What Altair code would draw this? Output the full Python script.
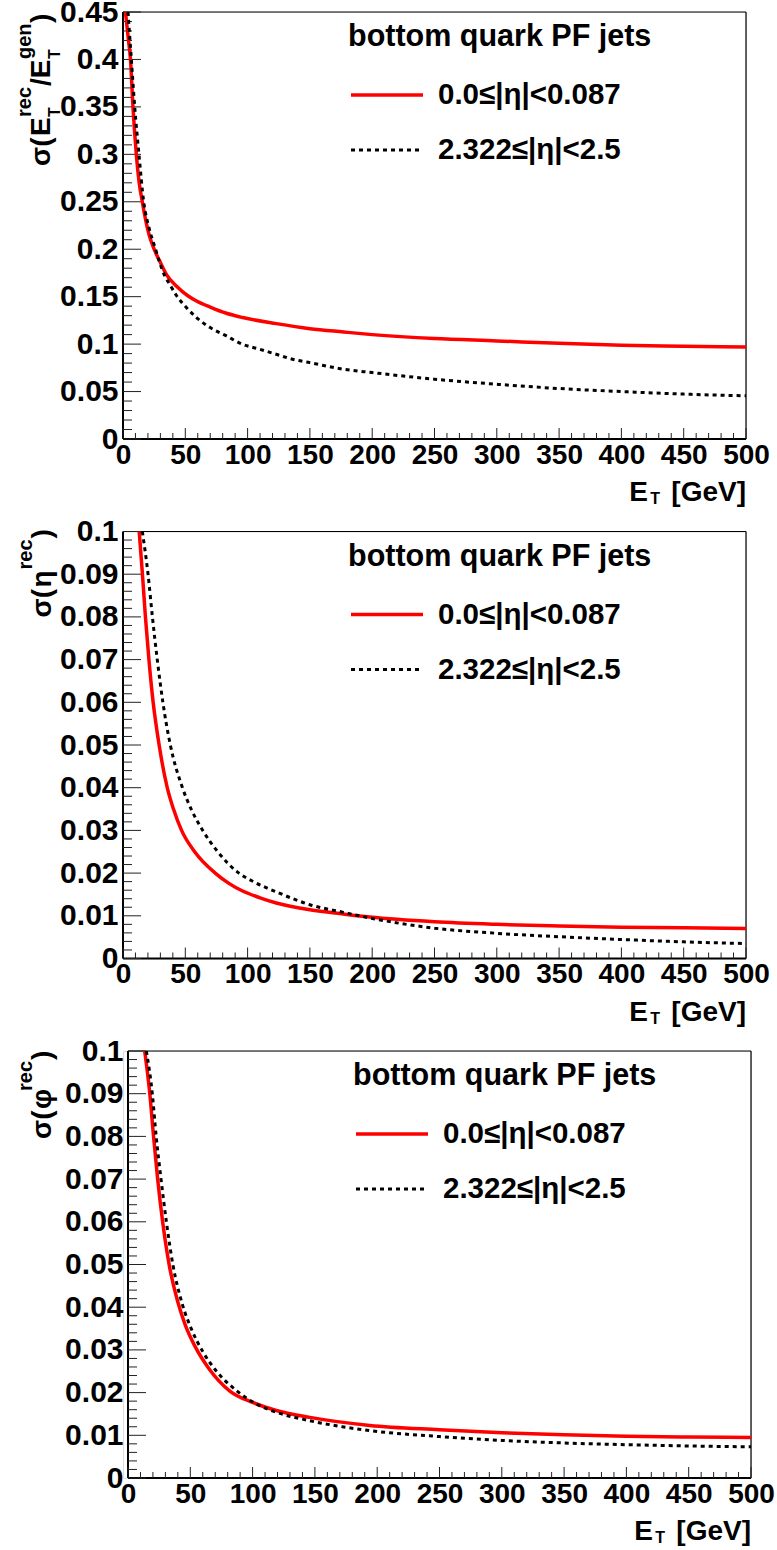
import altair as alt
import pandas as pd

# ---------------- data ----------------
X_TICKS = [0, 50, 100, 150, 200, 250, 300, 350, 400, 450, 500]
X_MINOR = [v for v in range(0, 501, 10) if v % 50 != 0]

# panel 1: sigma(ET_rec/ET_gen)
et_red_1 = [2, 4, 6, 8, 10.7, 13, 15.5, 18, 21, 25, 30, 35, 43, 52, 59, 70, 83, 96,
            123, 150, 177, 200, 250, 300, 350, 400, 450, 500]
sig_red_1 = [0.45, 0.425, 0.40, 0.35, 0.30, 0.27, 0.25, 0.232, 0.215, 0.2, 0.186, 0.173,
             0.161, 0.151, 0.1455, 0.139, 0.1325, 0.128, 0.1216, 0.1163, 0.1128, 0.110,
             0.1058, 0.1034, 0.1008, 0.0988, 0.0978, 0.097]
et_blk_1 = [4, 6.7, 9.4, 12.8, 16.6, 21, 26, 29.4, 33.5, 37.5, 43, 51, 59, 70, 83, 96,
            110, 123, 136, 150, 177, 200, 250, 300, 350, 400, 450, 500]
sig_blk_1 = [0.45, 0.40, 0.35, 0.30, 0.25, 0.222, 0.2005, 0.186, 0.172, 0.163, 0.151,
             0.1384, 0.128, 0.1174, 0.1086, 0.0998, 0.0945, 0.0893, 0.084, 0.0805, 0.0735,
             0.0700, 0.063, 0.0577, 0.0532, 0.050, 0.0473, 0.0455]
Y1_TICKS = [0, 0.05, 0.1, 0.15, 0.2, 0.25, 0.3, 0.35, 0.4, 0.45]
Y1_MINOR = [round(i * 0.01, 2) for i in range(46) if i % 5 != 0]

# panel 2: sigma(eta_rec)
et_red_2 = [13, 15.6, 18, 20.8, 24.2, 29, 35.5, 40.5, 47, 57.5, 74, 85, 96, 110, 123,
            150, 177, 198, 250, 300, 350, 400, 450, 500]
sig_red_2 = [0.1, 0.09, 0.08, 0.07, 0.06, 0.05, 0.04, 0.035, 0.03, 0.025, 0.02, 0.0176,
             0.0158, 0.0142, 0.0130, 0.0114, 0.0104, 0.0097, 0.0086, 0.0080, 0.0076,
             0.0073, 0.0072, 0.0070]
et_blk_2 = [15.5, 20.1, 23.6, 27.5, 32, 38, 47.7, 55, 64, 76, 93, 106, 123, 150,
            177, 198, 250, 300, 350, 400, 450, 500]
sig_blk_2 = [0.1, 0.09, 0.08, 0.07, 0.06, 0.05, 0.04, 0.0348, 0.03, 0.025, 0.02, 0.0178,
             0.0156, 0.0126, 0.0108, 0.0095, 0.0071, 0.0059, 0.0051, 0.00445, 0.0039,
             0.0035]
Y23_TICKS = [0, 0.01, 0.02, 0.03, 0.04, 0.05, 0.06, 0.07, 0.08, 0.09, 0.1]
Y23_MINOR = [round(i * 0.002, 3) for i in range(51) if i % 5 != 0]

# panel 3: sigma(phi_rec)
et_red_3 = [13.4, 17.5, 20.5, 23.8, 27.8, 33, 40, 46, 54, 65, 82, 100, 119, 146, 194,
            250, 300, 350, 400, 450, 500]
sig_red_3 = [0.1, 0.09, 0.08, 0.07, 0.06, 0.05, 0.0412, 0.0358, 0.0307, 0.0256, 0.0203,
             0.0177, 0.0158, 0.0142, 0.0123, 0.0113, 0.0106, 0.0101, 0.0098, 0.0096,
             0.0095]
et_blk_3 = [14.7, 19.5, 22.6, 26.5, 30.8, 36, 43.5, 51, 60, 71, 87, 102, 119, 146,
            172, 194, 250, 300, 350, 400, 450, 500]
sig_blk_3 = [0.1, 0.09, 0.08, 0.07, 0.06, 0.05, 0.0408, 0.0348, 0.0296, 0.025, 0.0205,
             0.0175, 0.0154, 0.0134, 0.0120, 0.0111, 0.0097, 0.0088, 0.0082, 0.0078,
             0.0075, 0.0073]

LEG_TITLE = "bottom quark PF jets"
LEG_LABELS = ["0.0\u2264|\u03b7|<0.087", "2.322\u2264|\u03b7|<2.5"]
X_TITLE = ["E", "T", " [GeV]"]
# (text, font size, baseline shift, advance along the axis)
Y_TITLES = [
    [("\u03c3(", 28, 0, 30), ("E", 28, 0, 19), ("T", 16, 10, 0), ("rec", 20, -19, 31),
     ("/E", 28, 0, 27), ("T", 16, 10, 0), ("gen", 20, -19, 36), (")", 28, 0, 9)],
    [("\u03c3(", 28, 0, 30), ("\u03b7", 28, 0, 18), ("rec", 20, -19, 31), (")", 28, 0, 9)],
    [("\u03c3(", 28, 0, 30), ("\u03c6", 28, 0, 18), ("rec", 20, -19, 31), (")", 28, 0, 9)],
]

# ---------------- style ----------------
W, H = 623, 427
FONT = "Liberation Sans"
RED = "#ff0000"


def one(t="x"):
    return pd.DataFrame({"t": [t]})


def txt(t, x, y, size, angle=0, align="left", font=FONT):
    return alt.Chart(one(t)).mark_text(
        align=align, baseline="alphabetic", fontSize=size, fontWeight="bold",
        font=font, angle=angle, color="black"
    ).encode(text="t:N", x=alt.value(x), y=alt.value(y))


def panel(et_r, s_r, et_b, s_b, ymax, yt, ymin, ytitle, xo, ybase_x, ytitle_y0):
    xs = alt.Scale(domain=[0, 500], range=[xo, xo + W], nice=False, zero=False)
    ys = alt.Scale(domain=[0, ymax], nice=False, zero=False)
    xax = alt.Axis(values=X_TICKS, title=None, ticks=False, tickSize=0, domain=False,
                   grid=False, labelFont=FONT, labelFontSize=28, labelFontWeight="bold",
                   labelColor="black", labelPadding=2, labelFlush=False,
                   labelOverlap=False, labelBound=False)
    yax = alt.Axis(values=yt, format="~g", title=None, ticks=False, tickSize=0,
                   domain=False, grid=False, labelFont=FONT, labelFontSize=30,
                   labelFontWeight="bold", labelColor="black", labelPadding=5,
                   labelFlush=False, labelOverlap=False, labelBound=False, offset=-xo)

    def line(xv, yv, color, width, dash=None):
        df = pd.DataFrame({"et": xv, "sig": yv})
        kw = dict(color=color, strokeWidth=width, clip=True, interpolate="monotone")
        if dash:
            kw["strokeDash"] = dash
        return alt.Chart(df).mark_line(**kw).encode(
            x=alt.X("et:Q", scale=xs, axis=xax), y=alt.Y("sig:Q", scale=ys, axis=yax))

    def yticks(vals, length):
        return alt.Chart(pd.DataFrame({"v": vals})).mark_rule(color="#222", strokeWidth=1).encode(
            y=alt.Y("v:Q", scale=ys, axis=yax), x=alt.value(xo), x2=alt.value(xo + length))

    def xticks(vals, length):
        return alt.Chart(pd.DataFrame({"v": vals})).mark_rule(color="#222", strokeWidth=1).encode(
            x=alt.X("v:Q", scale=xs, axis=xax), y=alt.value(H), y2=alt.value(H - length))

    def rule(x1, x2, y1, y2, color="black", width=1.0, dash=None):
        kw = dict(color=color, strokeWidth=width)
        if dash:
            kw["strokeDash"] = dash
        return alt.Chart(one()).mark_rule(**kw).encode(
            x=alt.value(x1), x2=alt.value(x2), y=alt.value(y1), y2=alt.value(y2))

    layers = [
        rule(xo, xo + W, 0, 0, width=1.2),
        rule(xo + W, xo + W, 0, H, width=1.2),
        rule(xo, xo, 0, H, width=2),
        rule(xo, xo + W, H, H, width=2),
        yticks(yt, 18), yticks(ymin, 9), xticks(X_TICKS, 11), xticks(X_MINOR, 6),
        line(et_r, s_r, RED, 3.5),
        line(et_b, s_b, "black", 3, [4, 4]),
        # legend
        txt(LEG_TITLE, xo + 225, 34, 30.5),
        rule(xo + 228, xo + 300, 83, 83, color=RED, width=3.5),
        txt(LEG_LABELS[0], xo + 315, 92, 29.5),
        rule(xo + 228, xo + 300, 138, 138, width=3, dash=[4, 4]),
        txt(LEG_LABELS[1], xo + 315, 147, 29.5),
        # x title
        txt(X_TITLE[2], xo + W, H + 62, 28, align="right"),
        txt(X_TITLE[1], xo + W - 86, H + 65, 16, align="right"),
        txt(X_TITLE[0], xo + W - 98, H + 62, 28, align="right"),
    ]
    ypos = ytitle_y0
    for t, size, shift, adv in ytitle:
        layers.append(txt(t, xo + ybase_x + shift, ypos, size, angle=270))
        ypos -= adv
    return alt.layer(*layers).properties(width=W + xo, height=H)


p1 = panel(et_red_1, sig_red_1, et_blk_1, sig_blk_1, 0.45, Y1_TICKS, Y1_MINOR,
           Y_TITLES[0], 0, -73, 154)
p2 = panel(et_red_2, sig_red_2, et_blk_2, sig_blk_2, 0.1, Y23_TICKS, Y23_MINOR,
           Y_TITLES[1], 0, -72, 86)
p3 = panel(et_red_3, sig_red_3, et_blk_3, sig_blk_3, 0.1, Y23_TICKS, Y23_MINOR,
           Y_TITLES[2], 5, -77, 88)

chart = alt.vconcat(p1, p2, p3, spacing=92.5, bounds="flush").properties(
    padding={"left": 14, "top": -4, "right": 0, "bottom": 0}
).configure_view(stroke=None).configure(background="white")

chart.save("out.html", embed_options={"renderer": "svg", "actions": False})
